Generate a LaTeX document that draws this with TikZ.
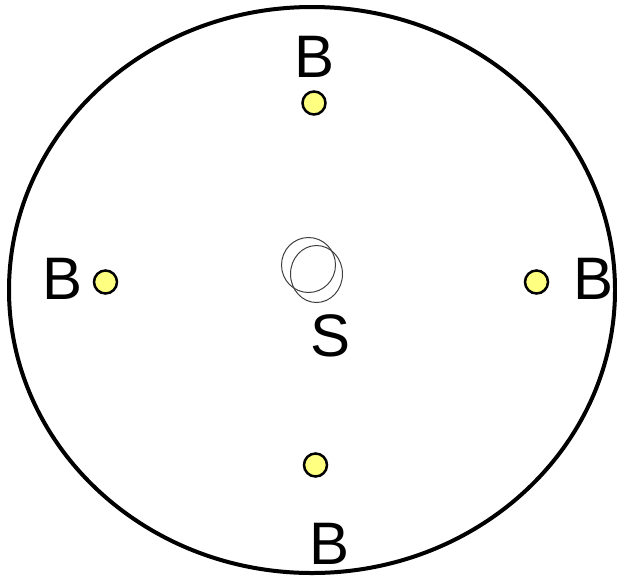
\documentclass[tikz,border=0pt]{standalone}
\usepackage{fontspec}
\setmainfont{Liberation Sans}
\definecolor{dotyellow}{HTML}{FFFF80}
\definecolor{ringgray}{HTML}{404040}
\begin{document}
\begin{tikzpicture}[x=1pt,y=-1pt,
  lbl/.style={inner sep=0pt,font=\fontsize{60}{60}\selectfont},
  dot/.style={circle,draw=black,fill=dotyellow,line width=2.5pt,minimum size=23pt,inner sep=0pt},
  ring/.style={draw=ringgray,line width=1pt}]
\useasboundingbox (0,0) rectangle (617,576);
\draw[line width=4pt] (312,290) ellipse [x radius=303, y radius=283];
\node[dot] (dt) at (314,103) {};
\node[dot] (dl) at (105.5,282) {};
\node[dot] (dr) at (536.5,282) {};
\node[dot] (db) at (315.5,465) {};
\node[lbl] (bt) at (315,57) {B};
\node[lbl] (bl) at (63,279) {B};
\node[lbl] (br) at (593,279) {B};
\node[lbl] (bb) at (330,544) {B};
\node[lbl] (s) at (331,336) {S};
\draw[ring] (308.5,265) ellipse [x radius=27, y radius=27.5];
\draw[ring] (316.5,274) ellipse [x radius=26, y radius=28.5];
\end{tikzpicture}
\end{document}
